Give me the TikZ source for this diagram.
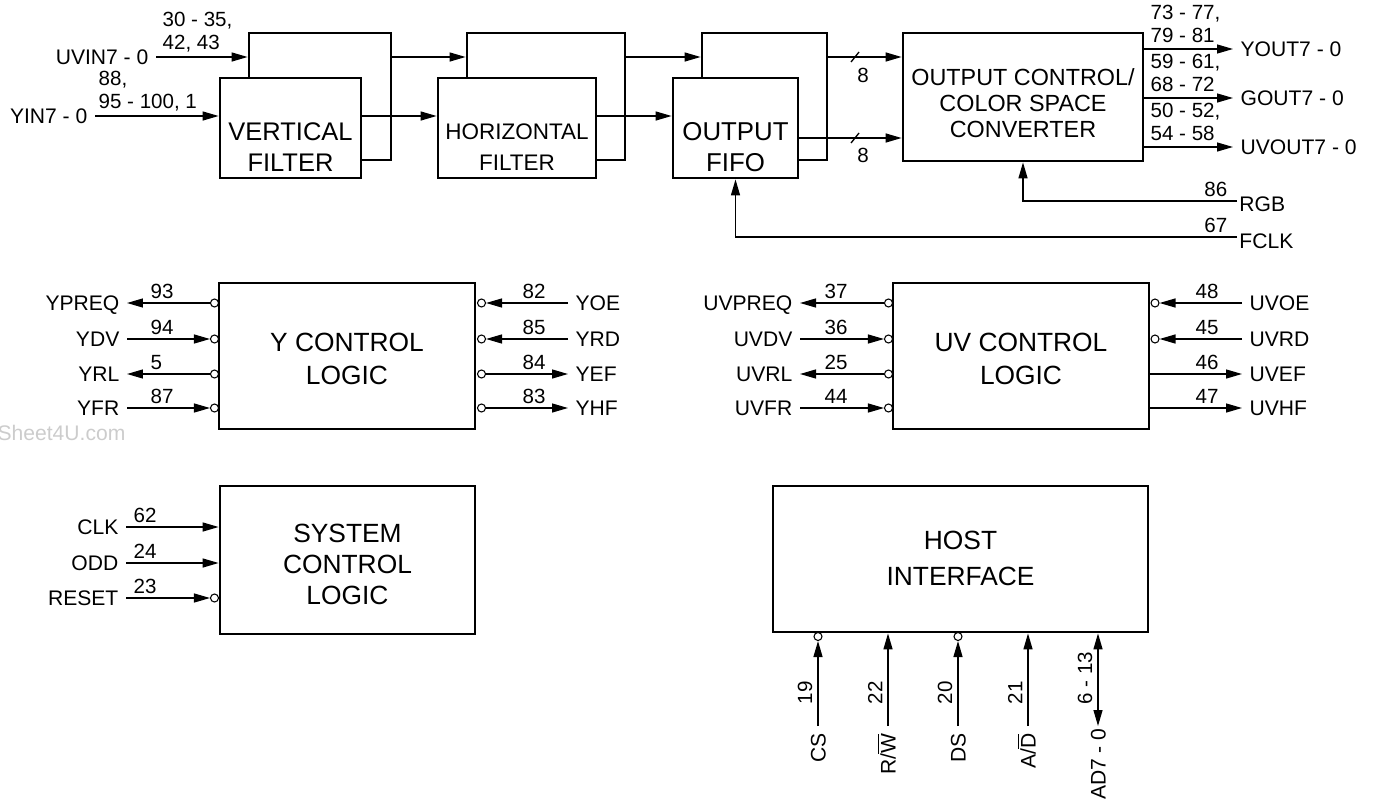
\documentclass[tikz,border=0pt]{standalone}
\usepackage{fontspec}
\setmainfont{Liberation Sans}
\usetikzlibrary{arrows.meta}

\begin{document}
\begin{tikzpicture}[x=0.02cm, y=-0.02cm, line width=0.75pt,
	block/.style = {draw, line width=1.6pt, fill=white, inner sep=0pt},
	blocktxt/.style = {align=center, inner sep=0pt},
	bubble/.style = {circle, draw, line width=0.6pt, fill=white, minimum size=0.16cm, inner sep=0pt},
	sig/.style = {font=\fontsize{12}{14}\selectfont, inner xsep=0.14cm, inner ysep=0pt, text height=8.6pt, text depth=0pt},
	pinno/.style = {font=\fontsize{11.7}{13}\selectfont, inner sep=0pt, anchor=south west, align=left},
	sigin/.style = {-{Triangle[length=0.32cm, width=0.18cm]}},
	sigout/.style = {{Triangle[length=0.32cm, width=0.18cm]}-},
	sigboth/.style = {{Triangle[length=0.32cm, width=0.18cm]}-{Triangle[length=0.32cm, width=0.18cm]}}]
	\useasboundingbox (0,0) rectangle (1383,808);
	\node[font=\fontsize{12}{14}\selectfont, text=gray!40, anchor=west, inner sep=0pt] (wm) at (-3,433) {Sheet4U.com};

	% data path
	\node[block, minimum width=2.84cm, minimum height=2.54cm] (vfb) at (320,96.5) {};
	\node[block, minimum width=2.82cm, minimum height=2cm] (vff) at (290.5,128) {};
	\node[block, minimum width=3.16cm, minimum height=2.54cm] (hfb) at (546,96.5) {};
	\node[block, minimum width=3.16cm, minimum height=2cm] (hff) at (517,128) {};
	\node[block, minimum width=2.5cm, minimum height=2.54cm] (fib) at (764.5,96.5) {};
	\node[block, minimum width=2.5cm, minimum height=2cm] (fif) at (735.5,128) {};
	\node[block, minimum width=4.8cm, minimum height=2.56cm] (conv) at (1023,97) {};
	\node[blocktxt, font=\fontsize{14.5}{18}\selectfont] (vft) at (290.5,147) {VERTICAL\\FILTER};
	\node[blocktxt, font=\fontsize{12.8}{18}\selectfont] (hft) at (517,147) {HORIZONTAL\\FILTER};
	\node[blocktxt, font=\fontsize{14.7}{18}\selectfont] (fifot) at (735.5,147) {OUTPUT\\FIFO};
	\node[blocktxt, font=\fontsize{13.3}{14.6}\selectfont] (convt) at (1023,103) {OUTPUT CONTROL/\\COLOR SPACE\\CONVERTER};

	\coordinate (uvrow) at (0,57);
	\coordinate (yrow) at (0,116);
	\coordinate (frow) at (0,138);
	\node[sig, anchor=east] (uvin) at (156,57) {UVIN7 - 0};
	\node[sig, anchor=east] (yin) at (95,116) {YIN7 - 0};
	\node[pinno] (uvinn) at (162,53) {30 - 35,\\42, 43};
	\node[pinno] (yinn) at (98,112) {88,\\95 - 100, 1};
	\draw[sigin] (uvin.east) -- (vfb.west |- uvrow);
	\draw[sigin] (yin.east) -- (vff.west |- yrow);
	\draw[sigin] (vfb.east |- uvrow) -- (hfb.west |- uvrow);
	\draw[sigin] (vff.east |- yrow) -- (hff.west |- yrow);
	\draw[sigin] (hfb.east |- uvrow) -- (fib.west |- uvrow);
	\draw[sigin] (hff.east |- yrow) -- (fif.west |- yrow);
	\draw[sigin] (fib.east |- uvrow) -- (conv.west |- uvrow);
	\draw[sigin] (fif.east |- frow) -- (conv.west |- frow);

	% 8 bit buses
	\coordinate (bus1) at (855,57);
	\coordinate (bus2) at (855,138);
	\draw (bus1) ++(-4,5) -- ++(8,-10);
	\draw (bus2) ++(-4,5) -- ++(8,-10);
	\node[pinno, anchor=center] (bus1n) at (863,75) {8};
	\node[pinno, anchor=center] (bus2n) at (863,155) {8};

	\foreach \y/\sg/\pn [count=\i] in {49/YOUT7 - 0/{73 - 77,\\79 - 81}, 98/GOUT7 - 0/{59 - 61,\\68 - 72}, 147/UVOUT7 - 0/{50 - 52,\\54 - 58}}{
		\node[sig, anchor=west] (out\i) at (1233,\y) {\sg};
		\node[pinno] (outn\i) at (1150,{\y-6}) {\pn};
		\draw[sigin] (conv.east |- out\i.west) -- (out\i.west);
	}

	\node[sig, anchor=west, inner xsep=1pt] (rgb) at (1237,204) {RGB};
	\node[pinno, anchor=south east] (rgbn) at (1228,197) {86};
	\draw[sigin] (rgb.west) ++(0,-3) -| (conv.south);
	\node[sig, anchor=west, inner xsep=1pt] (fclk) at (1237,241) {FCLK};
	\node[pinno, anchor=south east] (fclkn) at (1228,233) {67};
	\draw[sigin] (fclk.west) ++(0,-4) -| (fif.south);

	% Y control
	\node[block, minimum width=5.12cm, minimum height=2.92cm] (ybox) at (347,356) {};
	\node[blocktxt, font=\fontsize{15}{18.7}\selectfont] (yt) at (347,359) {Y CONTROL\\LOGIC};
	\foreach \y/\sg/\pn/\dir in {303/YPREQ/93/sigout, 339/YDV/94/sigin, 374/YRL/5/sigout, 408/YFR/87/sigin}{
		\node[bubble] (b\sg) at (214.5,\y) {};
		\node[sig, anchor=east] (\sg) at (127,\y) {\sg};
		\node[pinno] (n\sg) at (150,{\y-4}) {\pn};
		\draw[\dir] (\sg.east) -- (b\sg.west);
	}
	\foreach \y/\sg/\pn/\dir in {303/YOE/82/sigin, 339/YRD/85/sigin, 374/YEF/84/sigout, 408/YHF/83/sigout}{
		\node[bubble] (b\sg) at (481.5,\y) {};
		\node[sig, anchor=west] (\sg) at (568,\y) {\sg};
		\node[pinno] (n\sg) at (522,{\y-4}) {\pn};
		\draw[\dir] (\sg.west) -- (b\sg.east);
	}

	% UV control
	\node[block, minimum width=5.12cm, minimum height=2.92cm] (uvbox) at (1021,356) {};
	\node[blocktxt, font=\fontsize{15}{18.7}\selectfont] (uvt) at (1021,359) {UV CONTROL\\LOGIC};
	\foreach \y/\sg/\pn/\dir in {303/UVPREQ/37/sigout, 339/UVDV/36/sigin, 374/UVRL/25/sigout, 408/UVFR/44/sigin}{
		\node[bubble] (b\sg) at (888.5,\y) {};
		\node[sig, anchor=east] (\sg) at (800,\y) {\sg};
		\node[pinno] (n\sg) at (824,{\y-4}) {\pn};
		\draw[\dir] (\sg.east) -- (b\sg.west);
	}
	\foreach \y/\sg/\pn in {303/UVOE/48, 339/UVRD/45}{
		\node[bubble] (b\sg) at (1155,\y) {};
		\node[sig, anchor=west] (\sg) at (1242,\y) {\sg};
		\node[pinno] (n\sg) at (1195,{\y-4}) {\pn};
		\draw[sigin] (\sg.west) -- (b\sg.east);
	}
	\foreach \y/\sg/\pn in {374/UVEF/46, 408/UVHF/47}{
		\node[sig, anchor=west] (\sg) at (1242,\y) {\sg};
		\node[pinno] (n\sg) at (1195,{\y-4}) {\pn};
		\draw[sigin] (uvbox.east |- \sg.west) -- (\sg.west);
	}

	% system control
	\node[block, minimum width=5.1cm, minimum height=2.96cm] (sysbox) at (347.5,560) {};
	\node[blocktxt, font=\fontsize{15}{17.6}\selectfont] (syst) at (347.5,564) {SYSTEM\\CONTROL\\LOGIC};
	\foreach \y/\sg/\pn in {527/CLK/62, 563/ODD/24}{
		\node[sig, anchor=east] (\sg) at (126,\y) {\sg};
		\node[pinno] (n\sg) at (133,{\y-4}) {\pn};
		\draw[sigin] (\sg.east) -- (sysbox.west |- \sg.east);
	}
	\node[bubble] (breset) at (214.5,598) {};
	\node[sig, anchor=east] (reset) at (126,598) {RESET};
	\node[pinno] (nreset) at (133,594) {23};
	\draw[sigin] (reset.east) -- (breset.west);

	% host interface
	\node[block, minimum width=7.5cm, minimum height=2.92cm] (hostbox) at (960.5,559) {};
	\node[blocktxt, font=\fontsize{15}{20.5}\selectfont] (hostt) at (960.5,558) {HOST\\INTERFACE};
	\foreach \x/\sg/\pn in {818/CS/19, 958/DS/20}{
		\node[bubble] (b\sg) at (\x,636.5) {};
		\node[sig, rotate=90, anchor=east] (\sg) at (\x,726) {\sg};
		\node[pinno, rotate=90] (n\sg) at ({\x-5},705) {\pn};
		\draw[sigin] (\sg.east) -- (b\sg.south);
	}
	\node[sig, rotate=90, anchor=east] (rw) at (888,726) {R/$\overline{\mbox{W}}$};
	\node[pinno, rotate=90] (nrw) at (883,705) {22};
	\draw[sigin] (rw.east) -- (hostbox.south -| rw.east);
	\node[sig, rotate=90, anchor=east] (ad) at (1028,726) {A/$\overline{\mbox{D}}$};
	\node[pinno, rotate=90] (nad) at (1023,705) {21};
	\draw[sigin] (ad.east) -- (hostbox.south -| ad.east);
	\node[sig, rotate=90, anchor=east, inner xsep=1pt] (adbus) at (1098,726) {AD7 - 0};
	\node[pinno, rotate=90] (nadbus) at (1093,705) {6 - 13};
	\draw[sigboth] (adbus.east) -- (hostbox.south -| adbus.east);
\end{tikzpicture}
\end{document}
